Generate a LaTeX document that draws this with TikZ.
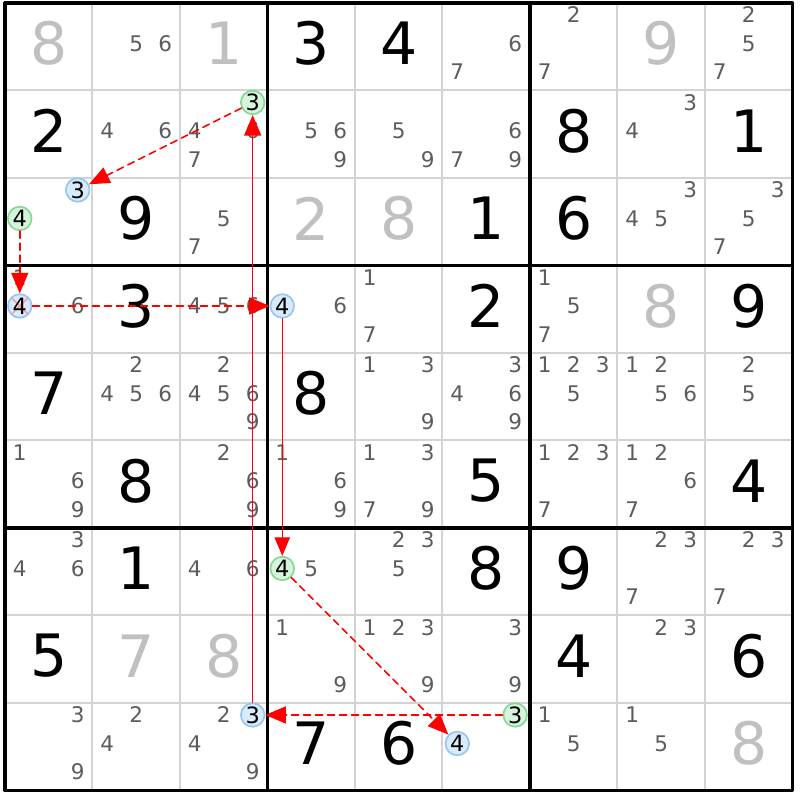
\documentclass[tikz,border=0pt]{standalone}
\usepackage{fontspec}
\setmainfont{DejaVu Sans}
\usetikzlibrary{arrows}
\definecolor{solvedgray}{HTML}{C0C0C0}
\definecolor{candgray}{HTML}{5C5C5C}
\definecolor{gridgray}{HTML}{D3D3D3}
\definecolor{onfill}{HTML}{D6F3DC}
\definecolor{onedge}{HTML}{86D896}
\definecolor{offfill}{HTML}{D9EAFB}
\definecolor{offedge}{HTML}{96C6F2}
\definecolor{elimred}{HTML}{FF9C9C}
\tikzset{
	given/.style={inner sep=0pt,font=\fontsize{19}{20}\selectfont},
	placed/.style={given,text=solvedgray},
	cand/.style={inner sep=0pt,font=\fontsize{7}{8}\selectfont,text=candgray},
	oncand/.style={circle,inner sep=0pt,minimum size=0.27cm,line width=0.55pt,draw=onedge,fill=onfill,font=\fontsize{7.3}{8}\selectfont},
	offcand/.style={oncand,draw=offedge,fill=offfill},
	elimcand/.style={offcand,path picture={
		\draw[elimred,line width=0.5pt] (path picture bounding box.north west) -- (path picture bounding box.south east)
			(path picture bounding box.south west) -- (path picture bounding box.north east);}},
	weaklink/.style={red,line width=0.5pt,dash pattern=on 2.3pt off 1.6pt},
	stronglink/.style={red,line width=0.5pt},
	thinlink/.style={red,line width=0.35pt}
}
\begin{document}
\begin{tikzpicture}[line cap=round,line join=round,>=triangle 45,x=1cm,y=1cm]
			\clip(-0.057,-0.109) rectangle (9.086,9.034);
			% cell lines and box lines
			\foreach \i in {1,2,4,5,7,8}
			{
				\draw [line width=0.65pt,color=gridgray] (\i,0.)-- (\i,9.);
				\draw [line width=0.65pt,color=gridgray] (0.,\i)-- (9.,\i);
			}
			\foreach \i in {0,3,6,9}
			{
				\draw [line width=1pt] (\i,0.)-- (\i,9.);
				\draw [line width=1pt] (0.,\i)-- (9.,\i);
			}
			% givens
			\foreach \r/\c/\d in {1/4/3,1/5/4,2/1/2,2/7/8,2/9/1,3/2/9,3/6/1,3/7/6,4/2/3,4/6/2,4/9/9,5/1/7,5/4/8,
				6/2/8,6/6/5,6/9/4,7/2/1,7/6/8,7/7/9,8/1/5,8/7/4,8/9/6,9/4/7,9/5/6}
				\node[given] (g\r\c) at (\c-0.5,9.537-\r) {\d};
			\foreach \r/\c/\d in {1/1/8,1/3/1,1/8/9,3/4/2,3/5/8,4/8/8,8/2/7,8/3/8,9/9/8}
				\node[placed] (g\r\c) at (\c-0.5,9.537-\r) {\d};
			% candidates
			\foreach \r/\c/\d in {1/2/5,1/2/6,1/6/6,1/6/7,1/7/2,1/7/7,1/9/2,1/9/5,1/9/7,
				2/2/4,2/2/6,2/3/4,2/3/6,2/3/7,2/4/5,2/4/6,2/4/9,2/5/5,2/5/9,2/6/6,2/6/7,2/6/9,2/8/3,2/8/4,
				3/3/5,3/3/7,3/8/3,3/8/4,3/8/5,3/9/3,3/9/5,3/9/7,
				4/1/1,4/1/6,4/3/4,4/3/5,4/3/6,4/4/6,4/5/1,4/5/7,4/7/1,4/7/5,4/7/7,
				5/2/2,5/2/4,5/2/5,5/2/6,5/3/2,5/3/4,5/3/5,5/3/6,5/3/9,5/5/1,5/5/3,5/5/9,5/6/3,5/6/4,5/6/6,5/6/9,
				5/7/1,5/7/2,5/7/3,5/7/5,5/8/1,5/8/2,5/8/5,5/8/6,5/9/2,5/9/5,
				6/1/1,6/1/6,6/1/9,6/3/2,6/3/6,6/3/9,6/4/1,6/4/6,6/4/9,6/5/1,6/5/3,6/5/7,6/5/9,
				6/7/1,6/7/2,6/7/3,6/7/7,6/8/1,6/8/2,6/8/6,6/8/7,
				7/1/3,7/1/4,7/1/6,7/3/4,7/3/6,7/4/5,7/5/2,7/5/3,7/5/5,7/8/2,7/8/3,7/8/7,7/9/2,7/9/3,7/9/7,
				8/4/1,8/4/9,8/5/1,8/5/2,8/5/3,8/5/9,8/6/3,8/6/9,8/8/2,8/8/3,
				9/1/3,9/1/9,9/2/2,9/2/4,9/3/2,9/3/4,9/3/9,9/7/1,9/7/5,9/8/1,9/8/5}
			{
				\pgfmathsetmacro{\cx}{\c-0.5+(mod(\d-1,3)-1)*0.331}
				\pgfmathsetmacro{\cy}{9.537-\r+(1-floor((\d-1)/3))*0.326}
				\node[cand] (k\r\c\d) at (\cx,\cy) {\d};
			}
			% chain candidates
			\foreach \r/\c/\d/\s in {2/3/3/oncand,3/1/3/offcand,3/1/4/oncand,4/1/4/elimcand,4/4/4/offcand,
				7/4/4/oncand,9/6/4/offcand,9/6/3/oncand,9/3/3/offcand}
			{
				\pgfmathsetmacro{\cx}{\c-0.5+(mod(\d-1,3)-1)*0.331}
				\pgfmathsetmacro{\cy}{9.537-\r+(1-floor((\d-1)/3))*0.326}
				\node[\s] (h\r\c\d) at (\cx,\cy) {\d};
			}
			% links
			\draw [weaklink,->] (h233) -- (h313);
			\draw [weaklink,->] (h314) -- (h414);
			\draw [weaklink,->] (h414) -- (h444);
			\draw [thinlink,->] (h444) -- (h744);
			\draw [weaklink,->] (h744) -- (h964);
			\draw [weaklink,->] (h963) -- (h933);
			\draw [stronglink,->] (h933) -- (h233);
		\end{tikzpicture}
\end{document}
